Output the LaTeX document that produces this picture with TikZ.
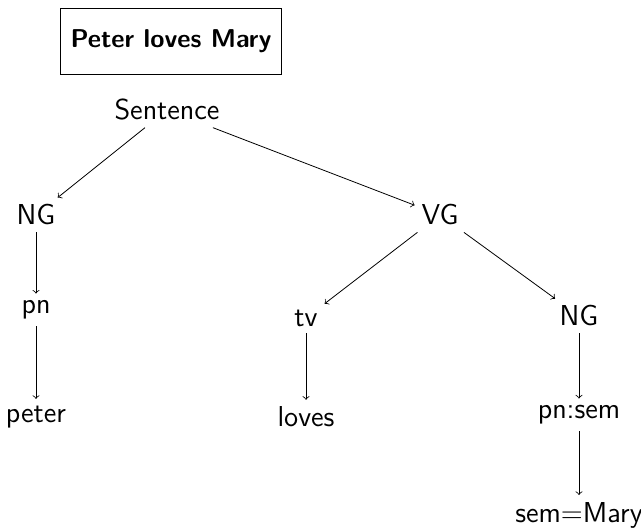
\documentclass[tikz,border=0pt]{standalone}
\usetikzlibrary{arrows}

\begin{document}
\begin{tikzpicture}[x=0.5pt,y=0.5pt,font=\sffamily\Large]
\useasboundingbox (0,0) rectangle (641,529);
\node[draw=black, line width=0.4pt, inner sep=5.2pt, minimum height=33pt, font=\sffamily\fontsize{12.9}{15}\selectfont\bfseries] (title) at (171,488) {Peter loves Mary};
\node (sentence) at (167,419) {Sentence};
\node (ngleft) at (36,314) {NG};
\node (pn) at (36,219) {pn};
\node (peter) at (36,112) {peter};
\node (vg) at (440,314) {VG};
\node (tv) at (306,211) {tv};
\node (loves) at (306,112) {loves};
\node (ngright) at (579,213) {NG};
\node (pnsem) at (579,114) {pn:sem};
\node (mary) at (579,14) {sem=Mary};
\draw[->] (sentence) -- (ngleft);
\draw[->] (sentence) -- (vg);
\draw[->] (ngleft) -- (pn);
\draw[->] (pn) -- (peter);
\draw[->] (vg) -- (tv);
\draw[->] (vg) -- (ngright);
\draw[->] (tv) -- (loves);
\draw[->] (ngright) -- (pnsem);
\draw[->] (pnsem) -- (mary);
\end{tikzpicture}
\end{document}
